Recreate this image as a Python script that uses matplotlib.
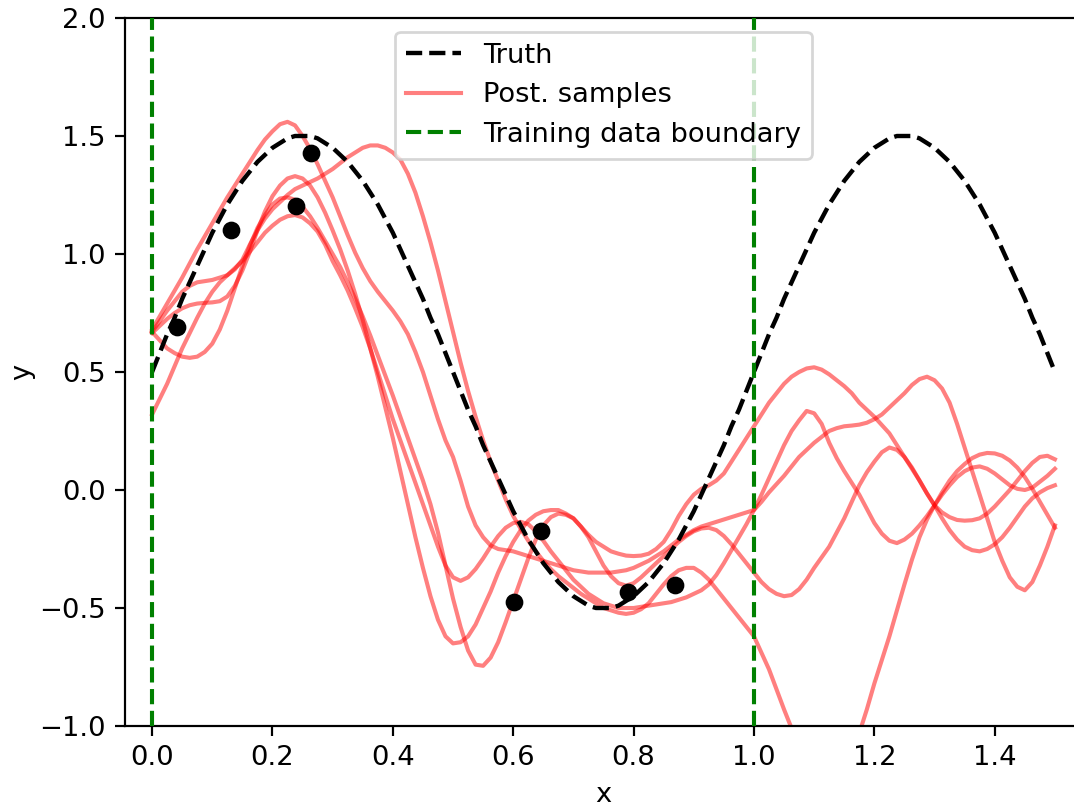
import numpy as np
import matplotlib
matplotlib.use("Agg")
import matplotlib.pyplot as plt

# Evaluation grid shared by the truth curve and the posterior draws
x_grid = np.round(np.arange(121) * 0.0125, 5)

truth_y = [0.50, 0.58, 0.66, 0.73, 0.81, 0.88, 0.95, 1.02,
           1.09, 1.15, 1.21, 1.26, 1.31, 1.35, 1.39, 1.42,
           1.45, 1.47, 1.49, 1.50, 1.50, 1.50, 1.49, 1.47,
           1.45, 1.42, 1.39, 1.35, 1.31, 1.26, 1.21, 1.15,
           1.09, 1.02, 0.95, 0.88, 0.81, 0.73, 0.66, 0.58,
           0.50, 0.42, 0.34, 0.27, 0.19, 0.12, 0.05, -0.02,
           -0.09, -0.15, -0.21, -0.26, -0.31, -0.35, -0.39, -0.42,
           -0.45, -0.47, -0.49, -0.50, -0.50, -0.50, -0.49, -0.47,
           -0.45, -0.42, -0.39, -0.35, -0.31, -0.26, -0.21, -0.15,
           -0.09, -0.02, 0.05, 0.12, 0.19, 0.27, 0.34, 0.42,
           0.50, 0.58, 0.66, 0.73, 0.81, 0.88, 0.95, 1.02,
           1.09, 1.15, 1.21, 1.26, 1.31, 1.35, 1.39, 1.42,
           1.45, 1.47, 1.49, 1.50, 1.50, 1.50, 1.49, 1.47,
           1.45, 1.42, 1.39, 1.35, 1.31, 1.26, 1.21, 1.15,
           1.09, 1.02, 0.95, 0.88, 0.81, 0.73, 0.66, 0.58,
           0.50]

# Training observations
train_x = [0.042, 0.131, 0.239, 0.264, 0.601, 0.646, 0.791, 0.869]
train_y = [0.69, 1.10, 1.205, 1.43, -0.475, -0.174, -0.433, -0.402]

# Posterior function draws evaluated on x_grid (one row per 0.1 in x)
sample_1 = [0.68, 0.735, 0.79, 0.845, 0.90, 0.96, 1.02, 1.075,
            1.13, 1.185, 1.24, 1.29, 1.34, 1.39, 1.44, 1.485,
            1.52, 1.55, 1.56, 1.545, 1.50, 1.445, 1.38, 1.31,
            1.24, 1.16, 1.08, 1.005, 0.94, 0.885, 0.84, 0.80,
            0.76, 0.715, 0.66, 0.585, 0.50, 0.40, 0.30, 0.21,
            0.14, 0.04, -0.07, -0.15, -0.20, -0.235, -0.25, -0.255,
            -0.26, -0.27, -0.28, -0.29, -0.30, -0.31, -0.32, -0.33,
            -0.34, -0.345, -0.35, -0.35, -0.35, -0.35, -0.345, -0.34,
            -0.33, -0.315, -0.30, -0.28, -0.26, -0.235, -0.21, -0.19,
            -0.17, -0.155, -0.145, -0.135, -0.125, -0.115, -0.105, -0.095,
            -0.085, -0.05, -0.01, 0.025, 0.06, 0.10, 0.14, 0.17,
            0.20, 0.225, 0.25, 0.262, 0.27, 0.273, 0.277, 0.285,
            0.30, 0.32, 0.35, 0.38, 0.41, 0.445, 0.47, 0.48,
            0.465, 0.43, 0.37, 0.28, 0.18, 0.08, -0.02, -0.12,
            -0.22, -0.30, -0.37, -0.41, -0.425, -0.39, -0.32, -0.24,
            -0.15]
sample_2 = [0.67, 0.715, 0.76, 0.80, 0.84, 0.865, 0.88, 0.885,
            0.89, 0.90, 0.91, 0.935, 0.975, 1.04, 1.10, 1.15,
            1.19, 1.22, 1.25, 1.275, 1.29, 1.305, 1.32, 1.34,
            1.36, 1.385, 1.41, 1.43, 1.45, 1.46, 1.46, 1.45,
            1.43, 1.40, 1.34, 1.26, 1.16, 1.05, 0.93, 0.80,
            0.67, 0.54, 0.42, 0.31, 0.21, 0.12, 0.04, -0.04,
            -0.11, -0.165, -0.215, -0.26, -0.30, -0.335, -0.365, -0.39,
            -0.415, -0.44, -0.46, -0.48, -0.50, -0.51, -0.52, -0.525,
            -0.52, -0.505, -0.48, -0.44, -0.40, -0.365, -0.34, -0.33,
            -0.33, -0.35, -0.38, -0.42, -0.46, -0.50, -0.54, -0.58,
            -0.62, -0.69, -0.76, -0.845, -0.93, -1.01, -1.08, -1.15,
            -1.20, -1.235, -1.25, -1.235, -1.19, -1.12, -1.03, -0.93,
            -0.82, -0.72, -0.62, -0.51, -0.40, -0.295, -0.20, -0.125,
            -0.065, -0.01, 0.04, 0.08, 0.11, 0.135, 0.15, 0.157,
            0.155, 0.145, 0.125, 0.095, 0.055, 0.005, -0.05, -0.105,
            -0.16]
sample_3 = [0.665, 0.695, 0.725, 0.75, 0.77, 0.783, 0.79, 0.793,
            0.795, 0.80, 0.82, 0.865, 0.93, 1.01, 1.10, 1.18,
            1.245, 1.29, 1.32, 1.33, 1.32, 1.29, 1.24, 1.175,
            1.10, 1.02, 0.93, 0.83, 0.72, 0.60, 0.48, 0.35,
            0.22, 0.08, -0.06, -0.20, -0.33, -0.45, -0.55, -0.62,
            -0.65, -0.645, -0.62, -0.57, -0.50, -0.43, -0.35, -0.28,
            -0.22, -0.17, -0.13, -0.105, -0.09, -0.085, -0.085, -0.10,
            -0.12, -0.155, -0.19, -0.22, -0.24, -0.26, -0.27, -0.278,
            -0.28, -0.278, -0.27, -0.25, -0.22, -0.17, -0.11, -0.06,
            -0.02, 0.005, 0.02, 0.04, 0.07, 0.12, 0.17, 0.22,
            0.27, 0.32, 0.37, 0.41, 0.45, 0.48, 0.50, 0.515,
            0.52, 0.51, 0.49, 0.465, 0.44, 0.41, 0.37, 0.34,
            0.31, 0.275, 0.24, 0.19, 0.14, 0.09, 0.04, -0.015,
            -0.065, -0.095, -0.115, -0.127, -0.13, -0.128, -0.12, -0.10,
            -0.07, -0.035, 0.0, 0.04, 0.08, 0.115, 0.14, 0.145,
            0.13]
sample_4 = [0.67, 0.635, 0.60, 0.58, 0.565, 0.56, 0.565, 0.585,
            0.62, 0.68, 0.76, 0.855, 0.95, 1.035, 1.11, 1.165,
            1.21, 1.235, 1.24, 1.23, 1.20, 1.16, 1.11, 1.055,
            1.00, 0.945, 0.88, 0.81, 0.735, 0.655, 0.57, 0.485,
            0.40, 0.31, 0.22, 0.13, 0.04, -0.06, -0.18, -0.32,
            -0.46, -0.58, -0.68, -0.74, -0.745, -0.71, -0.645, -0.56,
            -0.47, -0.38, -0.29, -0.21, -0.15, -0.115, -0.10, -0.105,
            -0.12, -0.155, -0.20, -0.26, -0.32, -0.365, -0.395, -0.405,
            -0.395, -0.37, -0.34, -0.31, -0.28, -0.25, -0.22, -0.195,
            -0.175, -0.163, -0.16, -0.17, -0.195, -0.23, -0.27, -0.31,
            -0.35, -0.39, -0.42, -0.44, -0.45, -0.445, -0.42, -0.38,
            -0.33, -0.285, -0.24, -0.18, -0.12, -0.05, 0.02, 0.075,
            0.12, 0.16, 0.18, 0.17, 0.14, 0.095, 0.04, -0.015,
            -0.065, -0.12, -0.17, -0.21, -0.24, -0.255, -0.26, -0.25,
            -0.23, -0.20, -0.16, -0.115, -0.07, -0.035, -0.01, 0.008,
            0.02]
sample_5 = [0.32, 0.385, 0.45, 0.525, 0.60, 0.665, 0.73, 0.79,
            0.84, 0.88, 0.91, 0.94, 0.97, 1.01, 1.05, 1.09,
            1.12, 1.145, 1.16, 1.165, 1.155, 1.13, 1.095, 1.04,
            0.97, 0.91, 0.845, 0.77, 0.69, 0.60, 0.50, 0.40,
            0.30, 0.21, 0.12, 0.03, -0.06, -0.15, -0.24, -0.32,
            -0.37, -0.385, -0.37, -0.335, -0.29, -0.24, -0.195, -0.16,
            -0.14, -0.135, -0.145, -0.175, -0.215, -0.26, -0.30, -0.34,
            -0.38, -0.41, -0.44, -0.46, -0.48, -0.49, -0.50, -0.50,
            -0.50, -0.495, -0.49, -0.485, -0.48, -0.475, -0.465, -0.455,
            -0.44, -0.425, -0.40, -0.36, -0.31, -0.255, -0.20, -0.145,
            -0.085, -0.02, 0.05, 0.12, 0.19, 0.25, 0.295, 0.335,
            0.325, 0.28, 0.20, 0.135, 0.08, 0.03, -0.02, -0.08,
            -0.14, -0.185, -0.215, -0.225, -0.21, -0.185, -0.15, -0.11,
            -0.065, -0.02, 0.02, 0.055, 0.08, 0.095, 0.10, 0.09,
            0.07, 0.045, 0.02, 0.005, 0.0, 0.01, 0.035, 0.06,
            0.09]
samples = [sample_1, sample_2, sample_3, sample_4, sample_5]
for s in [truth_y] + samples:
    if len(s) != len(x_grid):
        raise ValueError("series length %d != %d" % (len(s), len(x_grid)))

boundary_x = [0.0, 1.0]

DPI = 197
fig = plt.figure(figsize=(1074 / DPI, 807 / DPI), dpi=DPI)
ax = fig.add_axes([125 / 1074, 81 / 807, 957 / 1074, 708 / 807])

truth_line, = ax.plot(x_grid, truth_y, "k--", lw=1.6, zorder=3, label="Truth")
sample_lines = []
for s in samples:
    ln, = ax.plot(x_grid, s, color="red", alpha=0.5, lw=1.5, zorder=2)
    sample_lines.append(ln)
sample_lines[0].set_label("Post. samples")
bound_line = None
for bx in boundary_x:
    bl = ax.axvline(bx, color="green", ls="--", lw=1.5, zorder=3)
    if bound_line is None:
        bound_line = bl
bound_line.set_label("Training data boundary")
ax.scatter(train_x, train_y, color="black", s=30, zorder=4)

ax.set_xlim(-0.045, 1.545)
ax.set_ylim(-1.0, 2.0)
ax.set_xlabel("x")
ax.set_ylabel("y", labelpad=1.5)
ax.legend(handles=[truth_line, sample_lines[0], bound_line], loc="upper center")

fig.savefig("out.png", dpi=DPI)
